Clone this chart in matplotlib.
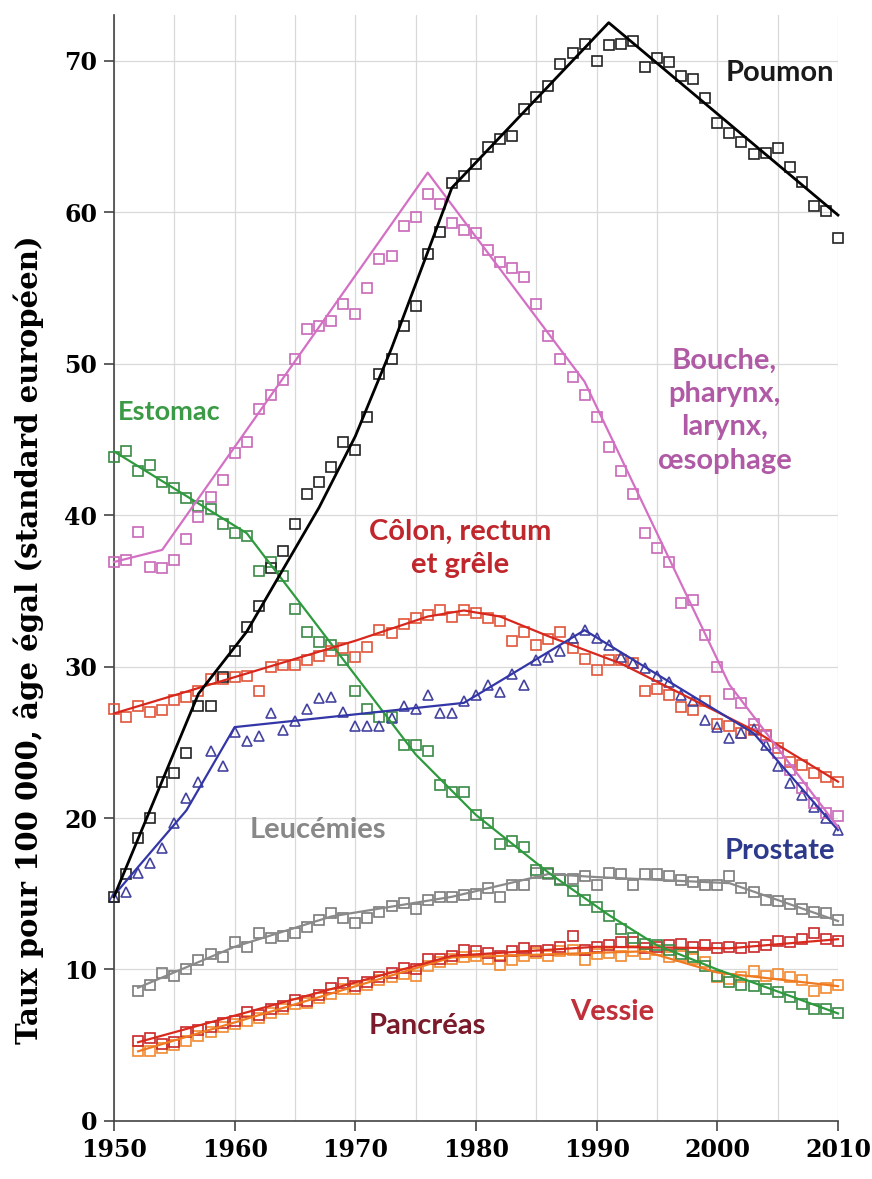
import matplotlib
matplotlib.use("Agg")
import matplotlib.pyplot as plt
from matplotlib.ticker import MultipleLocator

# --- data: yearly rates (points) and fitted joinpoint trends (knots) ---
years = list(range(1950, 2011))
years_52 = list(range(1952, 2011))

poumon = [14.8, 16.3, 18.7, 20.0, 22.4, 23.0, 24.3, 27.4, 27.4, 29.3,
          31.0, 32.6, 34.0, 36.5, 37.6, 39.4, 41.4, 42.2, 43.2, 44.8,
          44.3, 46.5, 49.3, 50.3, 52.5, 53.8, 57.2, 58.7, 61.9, 62.4,
          63.2, 64.3, 64.8, 65.0, 66.8, 67.6, 68.3, 69.8, 70.5, 71.1,
          70.0, 71.0, 71.1, 71.3, 69.6, 70.2, 69.9, 69.0, 68.8, 67.5,
          65.9, 65.2, 64.6, 63.8, 63.9, 64.2, 63.0, 62.0, 60.4, 60.1, 58.3]
poumon_fit_x = [1950, 1957, 1961, 1967, 1970, 1973, 1978, 1991, 2010]
poumon_fit_y = [14.8, 28.2, 32.3, 40.5, 45.2, 51.0, 61.6, 72.5, 59.8]

bouche = [36.9, 37.0, 38.9, 36.6, 36.5, 37.0, 38.4, 39.9, 41.2, 42.3,
          44.1, 44.8, 47.0, 47.9, 48.9, 50.3, 52.3, 52.5, 52.8, 53.9,
          53.3, 55.0, 56.9, 57.1, 59.1, 59.7, 61.2, 60.5, 59.3, 58.8,
          58.6, 57.5, 56.7, 56.3, 55.7, 53.9, 51.8, 50.3, 49.1, 47.9,
          46.5, 44.5, 42.9, 41.4, 38.8, 37.8, 36.9, 34.2, 34.4, 32.1,
          30.0, 28.2, 27.6, 26.2, 25.4, 24.3, 23.2, 22.0, 21.0, 20.3, 20.1]
bouche_fit_x = [1950, 1954, 1976, 1989, 2001, 2010]
bouche_fit_y = [36.9, 37.7, 62.6, 48.8, 28.8, 19.4]

estomac = [43.8, 44.2, 42.9, 43.3, 42.2, 41.8, 41.1, 40.6, 40.4, 39.4,
           38.8, 38.6, 36.3, 36.9, 36.0, 33.8, 32.3, 31.6, 31.4, 30.4,
           28.4, 27.2, 26.7, 26.7, 24.8, 24.8, 24.4, 22.2, 21.7, 21.7,
           20.2, 19.7, 18.3, 18.5, 18.1, 16.6, 16.4, 15.9, 15.2, 14.6,
           14.1, 13.5, 12.7, 12.1, 11.7, 11.6, 11.3, 11.0, 10.8, 10.2,
           9.6, 9.2, 9.0, 8.9, 8.7, 8.5, 8.2, 7.7, 7.4, 7.4, 7.1]
estomac_fit_x = [1950, 1961, 1975, 1980, 1986, 1991, 1995, 2000, 2010]
estomac_fit_y = [44.2, 38.8, 24.2, 20.2, 16.4, 13.6, 11.6, 10.0, 7.1]

colon = [27.2, 26.7, 27.4, 27.0, 27.1, 27.8, 28.0, 28.4, 29.2, 29.2,
         29.3, 29.4, 28.4, 30.0, 30.1, 30.1, 30.4, 30.7, 31.0, 31.2,
         30.6, 31.3, 32.4, 32.2, 32.8, 33.2, 33.4, 33.7, 33.3, 33.7,
         33.5, 33.2, 33.0, 31.7, 32.3, 31.4, 31.8, 32.3, 31.2, 30.5,
         29.8, 30.4, 30.4, 30.2, 28.4, 28.5, 28.1, 27.3, 27.1, 27.7,
         26.2, 26.1, 25.6, 25.8, 25.5, 24.6, 23.7, 23.5, 23.0, 22.7, 22.4]
colon_fit_x = [1950, 1970, 1976, 1979, 1982, 1986, 1992, 2003, 2010]
colon_fit_y = [26.9, 31.7, 33.3, 33.7, 33.3, 32.0, 30.2, 25.8, 22.4]

prostate = [14.8, 15.1, 16.4, 17.0, 18.0, 19.7, 21.3, 22.4, 24.4, 23.4,
            25.7, 25.1, 25.4, 26.9, 25.8, 26.4, 27.2, 27.9, 28.0, 27.0,
            26.1, 26.1, 26.1, 26.6, 27.4, 27.2, 28.1, 26.9, 26.9, 27.7,
            28.1, 28.8, 28.3, 29.5, 28.8, 30.4, 30.6, 31.0, 31.9, 32.4,
            31.9, 31.4, 30.6, 30.2, 29.9, 29.4, 29.0, 28.1, 27.7, 26.5,
            26.0, 25.3, 25.6, 25.9, 24.8, 23.4, 22.3, 21.5, 20.7, 20.0, 19.2]
prostate_fit_x = [1950, 1956, 1960, 1979, 1989, 2003, 2010]
prostate_fit_y = [14.9, 20.5, 26.0, 27.6, 32.4, 25.6, 19.2]

leucemies = [8.6, 9.0, 9.8, 9.6, 10.0, 10.6, 11.0, 10.8, 11.8, 11.5,
             12.4, 12.1, 12.2, 12.4, 12.8, 13.3, 13.7, 13.4, 13.1, 13.4,
             13.8, 14.2, 14.4, 14.0, 14.6, 14.8, 14.8, 14.9, 15.0, 15.4,
             14.8, 15.6, 15.6, 16.4, 16.3, 16.0, 16.0, 16.2, 15.6, 16.4,
             16.3, 15.6, 16.3, 16.3, 16.2, 15.9, 15.8, 15.6, 15.6, 16.2,
             15.4, 15.1, 14.6, 14.5, 14.3, 14.0, 13.8, 13.7, 13.3]
leucemies_fit_x = [1952, 1960, 1968, 1978, 1986, 1990, 2001, 2010]
leucemies_fit_y = [8.8, 11.5, 13.5, 14.8, 16.3, 16.1, 15.7, 13.2]

pancreas = [5.3, 5.5, 5.1, 5.2, 5.9, 6.0, 6.2, 6.5, 6.6, 7.2,
            7.0, 7.4, 7.6, 8.0, 7.9, 8.3, 8.8, 9.1, 8.9, 9.2,
            9.5, 9.8, 10.1, 10.0, 10.7, 10.7, 10.9, 11.3, 11.2, 11.1,
            10.9, 11.2, 11.4, 11.2, 11.3, 11.5, 12.2, 11.3, 11.5, 11.6,
            11.8, 11.8, 11.4, 11.5, 11.6, 11.7, 11.5, 11.6, 11.4, 11.5,
            11.4, 11.5, 11.6, 11.9, 11.8, 12.0, 12.4, 12.0, 11.9]
pancreas_fit_x = [1952, 1978, 1990, 2001, 2010]
pancreas_fit_y = [5.2, 10.9, 11.5, 11.4, 12.0]

vessie = [4.6, 4.6, 4.8, 5.0, 5.3, 5.6, 5.9, 6.2, 6.4, 6.6,
          6.8, 7.1, 7.4, 7.7, 7.8, 8.1, 8.4, 8.7, 8.7, 9.0,
          9.3, 9.5, 9.7, 9.6, 10.2, 10.5, 10.7, 10.8, 10.9, 10.7,
          10.3, 10.6, 10.9, 11.1, 10.9, 11.2, 11.3, 10.6, 11.0, 11.1,
          10.9, 11.2, 11.0, 11.3, 10.8, 10.9, 10.7, 10.5, 9.5, 9.4,
          9.5, 9.9, 9.6, 9.7, 9.5, 9.3, 8.6, 8.8, 9.0]
vessie_fit_x = [1952, 1978, 1994, 2000, 2010]
vessie_fit_y = [4.6, 10.8, 11.2, 9.8, 8.9]

# (label, x, y, colour) placed in data coordinates
labels = [
    ("Poumon", 2005.2, 69.2, "#1a1a1a"),
    ("Bouche,\npharynx,\nlarynx,\nœsophage", 2000.6, 46.9, "#b05aa6"),
    ("Estomac", 1950.3, 46.8, "#3a9a45"),
    ("Côlon, rectum\net grêle", 1978.7, 37.8, "#c0272d"),
    ("Leucémies", 1966.9, 19.2, "#888888"),
    ("Prostate", 2005.2, 17.8, "#2d3a8c"),
    ("Pancréas", 1976.0, 6.3, "#7a1a2a"),
    ("Vessie", 1991.3, 7.2, "#c0303a"),
]

fig = plt.figure(figsize=(8.72, 11.79), dpi=100)
ax = fig.add_axes([0.1307, 0.0492, 0.8303, 0.938])


def draw(x, pts, fx, fy, line_col, mark_col, marker="s", lw=1.6, ms=7.5):
    ax.plot(x, pts, linestyle="none", marker=marker, markersize=ms,
            markerfacecolor="none", markeredgecolor=mark_col,
            markeredgewidth=1.2, clip_on=False, zorder=3)
    ax.plot(fx, fy, color=line_col, lw=lw, zorder=4, clip_on=False)


draw(years_52, leucemies, leucemies_fit_x, leucemies_fit_y, "#8a8a8a", "#7a7a7a")
draw(years_52, vessie, vessie_fit_x, vessie_fit_y, "#f07a22", "#f08a30")
draw(years_52, pancreas, pancreas_fit_x, pancreas_fit_y, "#d92a1e", "#c8282a")
draw(years, estomac, estomac_fit_x, estomac_fit_y, "#2e9a3e", "#3a8a45")
draw(years, colon, colon_fit_x, colon_fit_y, "#d8281e", "#e0553a")
draw(years, prostate, prostate_fit_x, prostate_fit_y, "#3336a6", "#4444a0",
     marker="^")
draw(years, bouche, bouche_fit_x, bouche_fit_y, "#d470c4", "#c868b8")
draw(years, poumon, poumon_fit_x, poumon_fit_y, "#000000", "#222222", lw=2.0)

for text, lx, ly, col in labels:
    ha = "left" if text == "Estomac" else "center"
    fs = 19.5 if text == "Estomac" else 21
    ax.text(lx, ly, text, color=col, ha=ha, va="center", fontsize=fs,
            fontfamily="Lato", fontweight="bold", linespacing=1.35, zorder=5)

ax.set_xlim(1950, 2010)
ax.set_ylim(0, 73)
ax.xaxis.set_major_locator(MultipleLocator(10))
ax.xaxis.set_minor_locator(MultipleLocator(5))
ax.yaxis.set_major_locator(MultipleLocator(10))
ax.grid(which="both", axis="x", color="#d9d9d9", lw=0.9, zorder=0)
ax.grid(which="major", axis="y", color="#d9d9d9", lw=0.9, zorder=0)
ax.set_axisbelow(True)

for side in ("top", "right"):
    ax.spines[side].set_visible(False)
for side in ("left", "bottom"):
    ax.spines[side].set_color("#444444")
    ax.spines[side].set_linewidth(1.2)

ax.tick_params(which="major", length=7, width=1.2, color="#444444", pad=5,
               labelsize=17)
ax.tick_params(which="minor", length=0)
for lab in ax.get_xticklabels() + ax.get_yticklabels():
    lab.set_fontfamily("DejaVu Serif")
    lab.set_fontweight("bold")

ax.set_ylabel("Taux pour 100 000, âge égal (standard européen)",
              fontfamily="DejaVu Serif", fontweight="bold", fontsize=21)
ax.yaxis.set_label_coords(-0.096, 0.435)

fig.savefig("out.png", dpi=100)
